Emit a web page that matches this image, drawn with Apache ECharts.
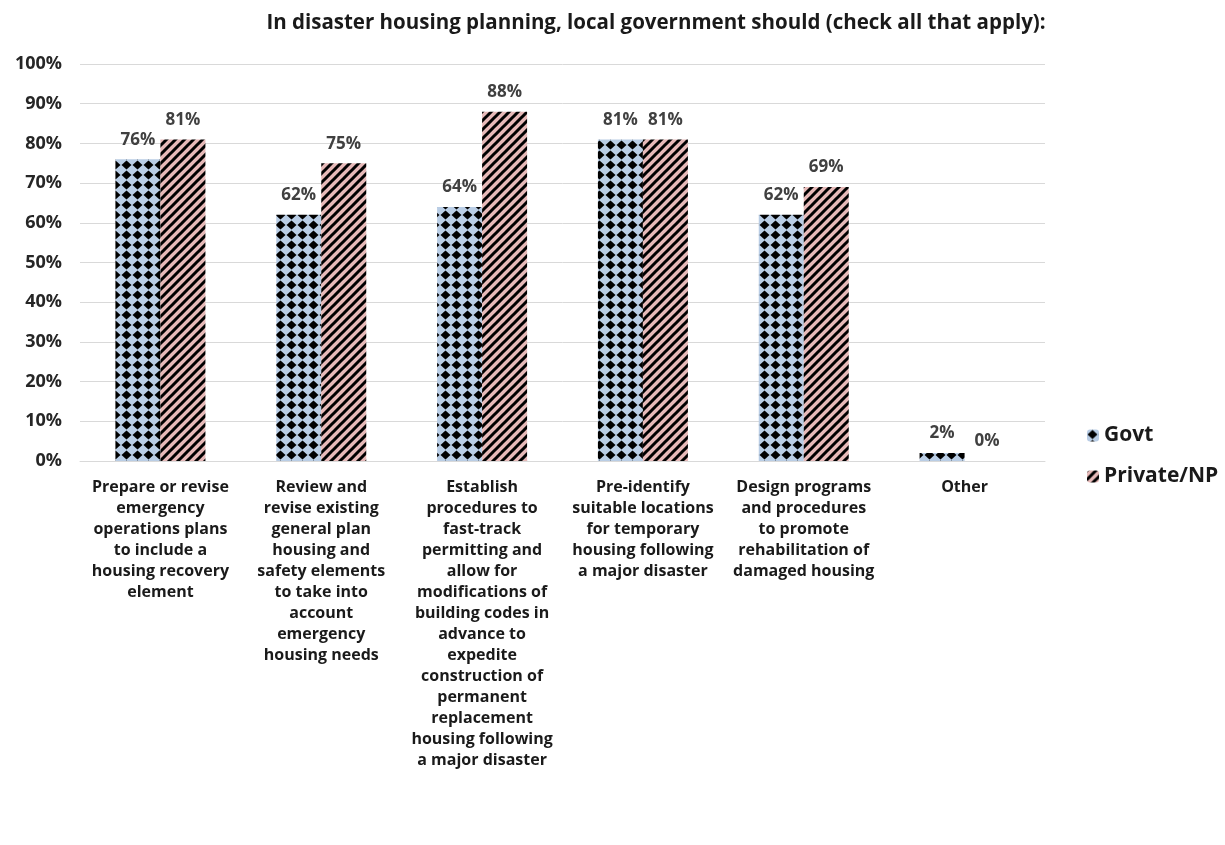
<!DOCTYPE html>
<html>
<head>
<meta charset="utf-8">
<script src="https://cdn.jsdelivr.net/npm/echarts@6/dist/echarts.min.js"></script>
<style>
  html, body { margin: 0; padding: 0; background: #ffffff; }
  #chart { width: 1225px; height: 845px; }
</style>
</head>
<body>
<div id="chart"></div>
<script>
// Survey answers: share of respondents choosing each option
const categories = [
  'Prepare or revise\nemergency\noperations plans\nto include a\nhousing recovery\nelement',
  'Review and\nrevise existing\ngeneral plan\nhousing and\nsafety elements\nto take into\naccount\nemergency\nhousing needs',
  'Establish\nprocedures to\nfast-track\npermitting and\nallow for\nmodifications of\nbuilding codes in\nadvance to\nexpedite\nconstruction of\npermanent\nreplacement\nhousing following\na major disaster',
  'Pre-identify\nsuitable locations\nfor temporary\nhousing following\na major disaster',
  'Design programs\nand procedures\nto promote\nrehabilitation of\ndamaged housing',
  'Other'
];
const govtValues = [76, 62, 64, 81, 62, 2];
const privateValues = [81, 75, 88, 81, 69, 0];
const seriesNames = ['Govt', 'Private/NP'];
const titleText = 'In disaster housing planning, local government should (check all that apply):';

// Fill patterns: black diamonds on light blue, black diagonal hatching on pink
function diamondPattern() {
  const w = 11, h = 10;
  const c = document.createElement('canvas');
  c.width = w; c.height = h;
  const g = c.getContext('2d');
  g.fillStyle = '#b9cde5';
  g.fillRect(0, 0, w, h);
  g.fillStyle = '#000000';
  g.beginPath();
  g.moveTo(w / 2, 0.5);
  g.lineTo(w - 0.5, h / 2);
  g.lineTo(w / 2, h - 0.5);
  g.lineTo(0.5, h / 2);
  g.closePath();
  g.fill();
  return c;
}
function stripePattern() {
  const s = 9;
  const c = document.createElement('canvas');
  c.width = s; c.height = s;
  const g = c.getContext('2d');
  g.fillStyle = '#e6b9b8';
  g.fillRect(0, 0, s, s);
  g.strokeStyle = '#000000';
  g.lineWidth = 3;
  g.beginPath();
  g.moveTo(-2, s + 2); g.lineTo(s + 2, -2);
  g.moveTo(-2, 2); g.lineTo(2, -2);
  g.moveTo(s - 2, s + 2); g.lineTo(s + 2, s - 2);
  g.stroke();
  return c;
}

const fontFamily = '"Open Sans", Lato, sans-serif';
const chart = echarts.init(document.getElementById('chart'), null, { renderer: 'canvas' });

const labelStyle = {
  show: true,
  position: 'top',
  formatter: '{c}%',
  color: '#404040',
  fontFamily: fontFamily,
  fontWeight: 'bold',
  fontSize: 17,
  distance: 11
};

chart.setOption({
  animation: false,
  backgroundColor: '#ffffff',
  title: {
    text: titleText,
    left: 651,
    top: 8,
    textAlign: 'center',
    textStyle: { fontFamily: fontFamily, fontWeight: 'bold', fontSize: 20.5, color: '#1a1a1a' }
  },
  legend: {
    orient: 'vertical',
    left: 1082,
    top: 420,
    itemGap: 20,
    itemWidth: 12,
    itemHeight: 12,
    data: seriesNames,
    textStyle: { fontFamily: fontFamily, fontWeight: 'bold', fontSize: 21, color: '#1a1a1a' }
  },
  grid: { left: 80, right: 180, top: 64, bottom: 384, containLabel: false },
  xAxis: {
    type: 'category',
    data: categories,
    axisTick: { show: false },
    axisLine: { lineStyle: { color: '#d9d9d9', width: 1 } },
    axisLabel: {
      interval: 0,
      margin: 16,
      color: '#1a1a1a',
      fontFamily: fontFamily,
      fontWeight: 'bold',
      fontSize: 16,
      lineHeight: 21
    }
  },
  yAxis: {
    type: 'value',
    min: 0,
    max: 100,
    interval: 10,
    axisLine: { show: false },
    axisTick: { show: false },
    splitLine: { lineStyle: { color: '#d9d9d9', width: 1 } },
    axisLabel: {
      formatter: '{value}%',
      margin: 18,
      color: '#262626',
      fontFamily: fontFamily,
      fontWeight: 'bold',
      fontSize: 18
    }
  },
  series: [
    {
      name: seriesNames[0],
      type: 'bar',
      data: govtValues,
      barWidth: 45,
      barGap: '0%',
      itemStyle: { color: { image: diamondPattern(), repeat: 'repeat' } },
      label: labelStyle
    },
    {
      name: seriesNames[1],
      type: 'bar',
      data: privateValues,
      barWidth: 45,
      barGap: '0%',
      itemStyle: { color: { image: stripePattern(), repeat: 'repeat' } },
      label: labelStyle
    }
  ]
});
</script>
</body>
</html>
